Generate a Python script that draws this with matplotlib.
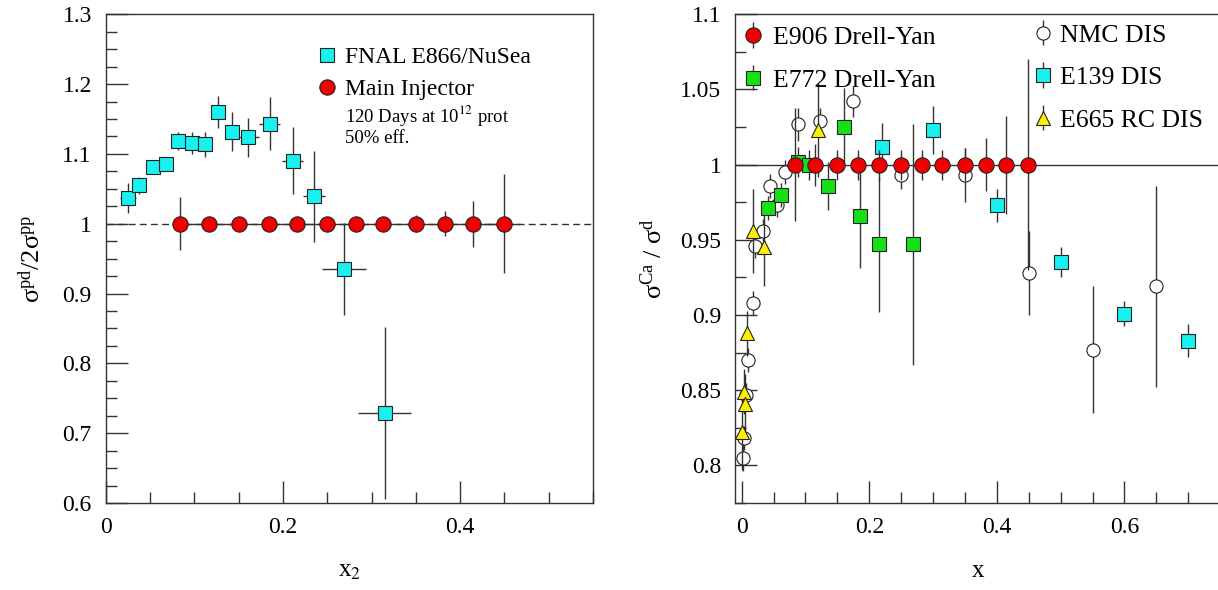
import numpy as np
import matplotlib
matplotlib.use('Agg')
import matplotlib.pyplot as plt
from matplotlib.lines import Line2D
from matplotlib.ticker import MultipleLocator, FuncFormatter

plt.rcParams['font.family'] = ['Liberation Serif', 'DejaVu Serif']
plt.rcParams['mathtext.fontset'] = 'stix'
plt.rcParams['font.size'] = 17

# ---- left panel: sigma_pd / 2 sigma_pp ----
e866_x = [0.025, 0.038, 0.053, 0.068, 0.082, 0.097, 0.112, 0.127, 0.142, 0.161, 0.185, 0.211, 0.235, 0.269, 0.315]
e866_y = [1.037, 1.055, 1.081, 1.085, 1.118, 1.116, 1.114, 1.160, 1.132, 1.124, 1.143, 1.090, 1.039, 0.935, 0.729]
e866_yerr = [0.022, 0.012, 0.006, 0.006, 0.013, 0.016, 0.018, 0.023, 0.028, 0.028, 0.038, 0.048, 0.065, 0.066, 0.123]
e866_xerr = [0.009, 0.008, 0.006, 0.006, 0.006, 0.006, 0.006, 0.006, 0.006, 0.012, 0.012, 0.012, 0.012, 0.025, 0.030]

mi_x = [0.084, 0.116, 0.150, 0.184, 0.216, 0.250, 0.283, 0.313, 0.350, 0.383, 0.415, 0.450]
mi_y = [1.0, 1.0, 1.0, 1.0, 1.0, 1.0, 1.0, 1.0, 1.0, 1.0, 1.0, 1.0]
mi_yerr = [0.038, 0.010, 0.010, 0.010, 0.010, 0.010, 0.010, 0.010, 0.012, 0.018, 0.033, 0.071]
mi_xerr = [0.0, 0.0, 0.0, 0.0, 0.0, 0.0, 0.0, 0.0, 0.0, 0.0, 0.0, 0.018]

# ---- right panel: sigma_Ca / sigma_d ----
e906_x = [0.083, 0.115, 0.149, 0.182, 0.216, 0.250, 0.282, 0.314, 0.350, 0.383, 0.414, 0.449]
e906_y = [1.0, 1.0, 1.0, 1.0, 1.0, 1.0, 1.0, 1.0, 1.0, 1.0, 1.0, 1.0]
e906_yerr = [0.0375, 0.014, 0.010, 0.010, 0.010, 0.010, 0.010, 0.010, 0.011, 0.0175, 0.0325, 0.070]

e772_x = [0.041, 0.061, 0.088, 0.106, 0.135, 0.160, 0.185, 0.215, 0.269]
e772_y = [0.971, 0.980, 1.002, 1.000, 0.986, 1.025, 0.966, 0.947, 0.947]
e772_yerr = [0.008, 0.008, 0.010, 0.010, 0.016, 0.026, 0.035, 0.045, 0.080]

nmc_x = [0.002, 0.004, 0.006, 0.010, 0.017, 0.021, 0.034, 0.044, 0.056, 0.068, 0.089, 0.123, 0.175, 0.250, 0.350, 0.450, 0.550, 0.650]
nmc_y = [0.805, 0.818, 0.847, 0.870, 0.908, 0.946, 0.956, 0.986, 0.973, 0.995, 1.027, 1.029, 1.042, 0.993, 0.993, 0.928, 0.877, 0.919]
nmc_yerr = [0.009, 0.008, 0.008, 0.008, 0.008, 0.008, 0.008, 0.008, 0.008, 0.008, 0.011, 0.009, 0.010, 0.009, 0.018, 0.028, 0.042, 0.067]

e139_x = [0.220, 0.300, 0.400, 0.500, 0.600, 0.700]
e139_y = [1.012, 1.023, 0.973, 0.935, 0.901, 0.883]
e139_yerr = [0.016, 0.016, 0.011, 0.010, 0.008, 0.011]

e665_x = [0.001, 0.003, 0.005, 0.009, 0.018, 0.035, 0.120]
e665_y = [0.822, 0.849, 0.841, 0.888, 0.956, 0.945, 1.023]
e665_yerr = [0.025, 0.015, 0.020, 0.015, 0.028, 0.026, 0.031]

axcol = '#333333'
edge = '#222222'
cyan = '#19F0F0'
red = '#F20000'
green = '#16E016'
yellow = '#FFF000'

fig = plt.figure(figsize=(12.18, 5.9), dpi=100)
ax1 = fig.add_axes([0.0868, 0.1475, 0.4001, 0.8283])
ax2 = fig.add_axes([0.6037, 0.1475, 0.3981, 0.8283])

fmt = FuncFormatter(lambda v, p: f'{v:g}')


def style_axes(ax):
    for s in ax.spines.values():
        s.set_color(axcol)
        s.set_linewidth(1.0)
    ax.tick_params(which='both', direction='in', top=False, right=False, color=axcol, width=1.0)
    ax.tick_params(which='major', length=16)
    ax.tick_params(which='minor', length=8)
    ax.tick_params(axis='y', which='both', pad=10, labelsize=17)
    ax.tick_params(axis='x', which='both', pad=10, labelsize=17)
    ax.xaxis.set_major_formatter(fmt)
    ax.yaxis.set_major_formatter(fmt)


# left panel
ax1.axhline(1.0, color=axcol, lw=1.0, ls=(0, (5, 3)), zorder=1)
ax1.errorbar(e866_x, e866_y, yerr=e866_yerr, xerr=e866_xerr, fmt='s', ms=10.5,
             mfc=cyan, mec=edge, mew=0.8, ecolor=axcol, elinewidth=1.0, zorder=3)
ax1.errorbar(mi_x, mi_y, yerr=mi_yerr, xerr=mi_xerr, fmt='o-', ms=11, color=axcol, lw=1.0,
             mfc=red, mec=edge, mew=0.8, ecolor=axcol, elinewidth=1.0, zorder=4)
ax1.set_xlim(0, 0.55)
ax1.set_ylim(0.6, 1.3)
ax1.xaxis.set_major_locator(MultipleLocator(0.2))
ax1.xaxis.set_minor_locator(MultipleLocator(0.05))
ax1.yaxis.set_major_locator(MultipleLocator(0.1))
ax1.yaxis.set_minor_locator(MultipleLocator(0.025))
style_axes(ax1)
ax1.set_xlabel('x$_2$', fontsize=18, labelpad=16)
ax1.set_ylabel(r'$\mathregular{\sigma^{pd}/2\sigma^{pp}}$', fontsize=19)
ax1.yaxis.set_label_coords(-0.125, 0.5)

h1 = [Line2D([], [], ls='none', marker='s', ms=10.5, mfc=cyan, mec=edge, mew=0.8),
      Line2D([], [], ls='none', marker='o', ms=11, mfc=red, mec=edge, mew=0.8)]
ax1.legend(h1, ['FNAL E866/NuSea', 'Main Injector'], loc='upper left',
           bbox_to_anchor=(0.435, 0.934), frameon=False, borderpad=0, borderaxespad=0,
           handlelength=0.8, handletextpad=0.36, labelspacing=0.45, fontsize=17)
ax1.text(0.491, 0.792, '120 Days at 10$^{12}$ prot', transform=ax1.transAxes,
         fontsize=13.5, va='center', ha='left')
ax1.text(0.491, 0.745, '50% eff.', transform=ax1.transAxes,
         fontsize=13.5, va='center', ha='left')

# right panel
ax2.axhline(1.0, color=axcol, lw=1.0, zorder=1)
kw = dict(ecolor=axcol, elinewidth=1.0, mec=edge, mew=0.8, ls='none')
nmc = ax2.errorbar(nmc_x, nmc_y, yerr=nmc_yerr, fmt='o', ms=9.5, mfc='white', zorder=2, **kw)
e665 = ax2.errorbar(e665_x, e665_y, yerr=e665_yerr, fmt='^', ms=10, mfc=yellow, zorder=3, **kw)
e772 = ax2.errorbar(e772_x, e772_y, yerr=e772_yerr, fmt='s', ms=10.5, mfc=green, zorder=4, **kw)
e139 = ax2.errorbar(e139_x, e139_y, yerr=e139_yerr, fmt='s', ms=10, mfc=cyan, zorder=5, **kw)
e906 = ax2.errorbar(e906_x, e906_y, yerr=e906_yerr, fmt='o', ms=11, mfc=red, zorder=6, **kw)
ax2.set_xlim(-0.01, 0.75)
ax2.set_ylim(0.775, 1.1)
ax2.xaxis.set_major_locator(MultipleLocator(0.2))
ax2.xaxis.set_minor_locator(MultipleLocator(0.05))
ax2.yaxis.set_major_locator(MultipleLocator(0.05))
ax2.yaxis.set_minor_locator(MultipleLocator(0.025))
style_axes(ax2)
ax2.set_xlabel('x', fontsize=18, labelpad=16)
ax2.set_ylabel(r'$\mathregular{\sigma^{Ca}\ /\ \sigma^{d}}$', fontsize=19)
ax2.yaxis.set_label_coords(-0.141, 0.5)

leg_a = ax2.legend([e906, e772], ['E906 Drell-Yan', 'E772 Drell-Yan'], loc='upper left',
                   bbox_to_anchor=(0.015, 0.976), frameon=False, borderpad=0, borderaxespad=0,
                   handlelength=0.8, handletextpad=0.38, labelspacing=0.76, fontsize=18.5)
ax2.add_artist(leg_a)
ax2.legend([nmc, e139, e665], ['NMC DIS', 'E139 DIS', 'E665 RC DIS'], loc='upper left',
           bbox_to_anchor=(0.614, 0.981), frameon=False, borderpad=0, borderaxespad=0,
           handlelength=0.8, handletextpad=0.26, labelspacing=0.76, fontsize=18.5)

fig.savefig('out.png', dpi=100)
